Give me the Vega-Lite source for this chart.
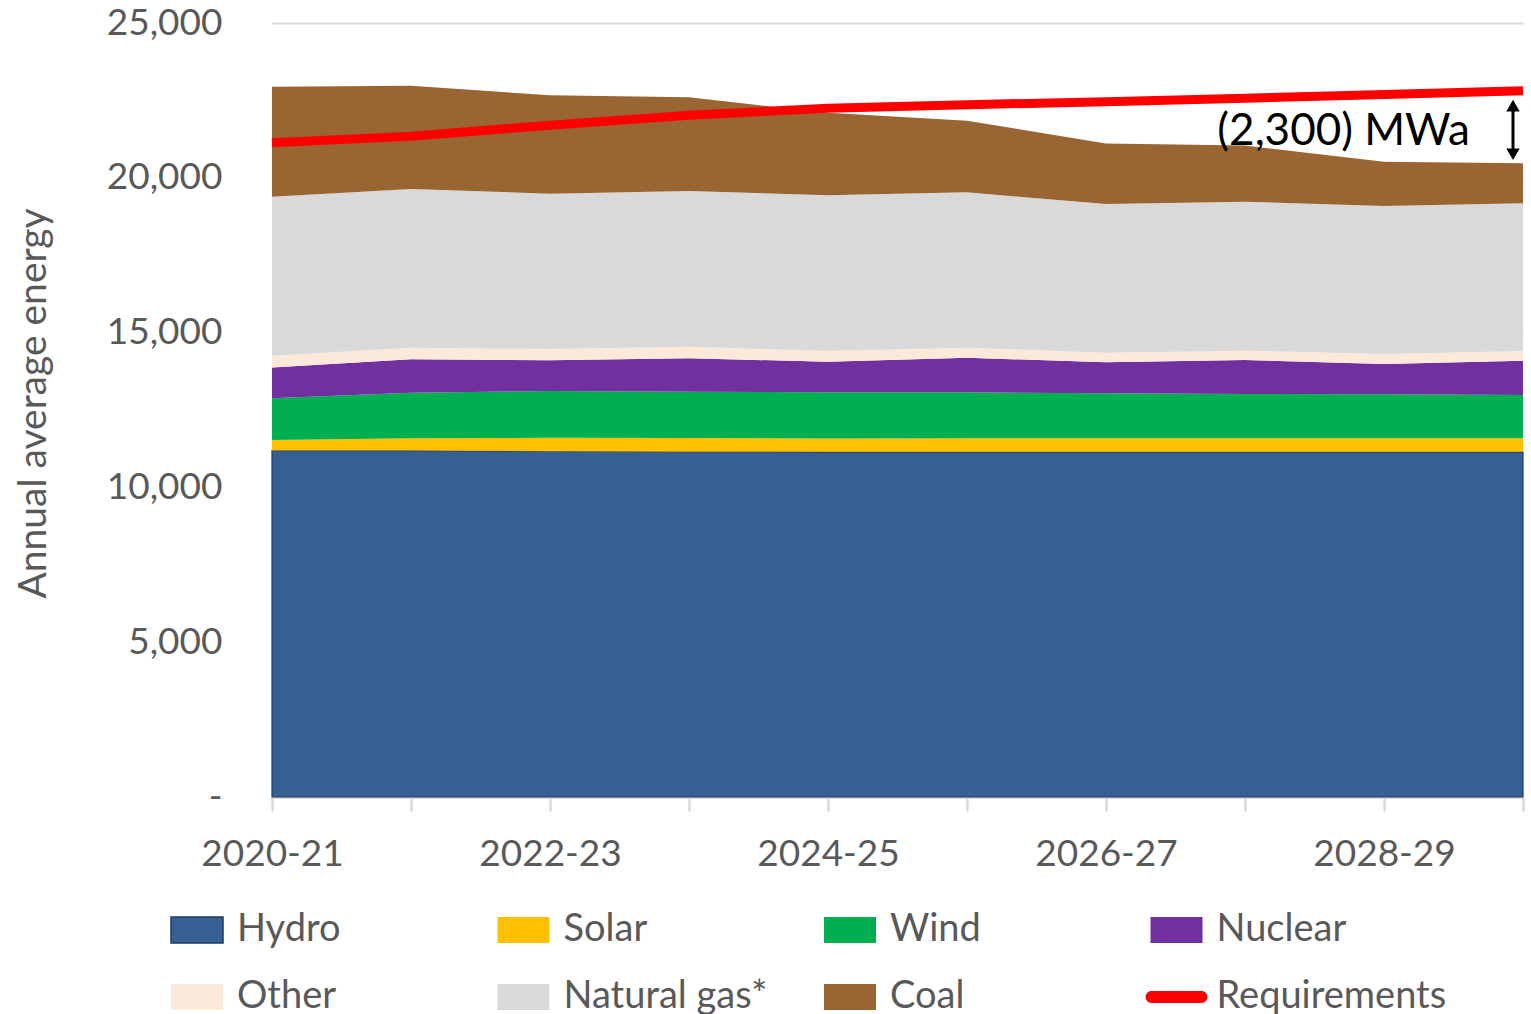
{
  "$schema": "https://vega.github.io/schema/vega-lite/v6.json",
  "width": 1251,
  "height": 774,
  "autosize": {"type": "none"},
  "padding": {"left": 272, "top": 23, "right": 8, "bottom": 217},
  "background": "white",
  "config": {"view": {"stroke": null}, "font": "Lato"},
  "datasets": {
    "energy": [
      {"year": "2020-21", "Hydro": 11190, "Solar": 340, "Wind": 1350, "Nuclear": 990, "Other": 385, "Natural gas*": 5135, "Coal": 3550, "Requirements": 21130},
      {"year": "2021-22", "Hydro": 11190, "Solar": 395, "Wind": 1475, "Nuclear": 1077, "Other": 376, "Natural gas*": 5125, "Coal": 3337, "Requirements": 21340},
      {"year": "2022-23", "Hydro": 11170, "Solar": 435, "Wind": 1509, "Nuclear": 991, "Other": 365, "Natural gas*": 5017, "Coal": 3178, "Requirements": 21700},
      {"year": "2023-24", "Hydro": 11155, "Solar": 440, "Wind": 1495, "Nuclear": 1080, "Other": 375, "Natural gas*": 5029, "Coal": 3026, "Requirements": 22020},
      {"year": "2024-25", "Hydro": 11150, "Solar": 430, "Wind": 1490, "Nuclear": 990, "Other": 346, "Natural gas*": 5029, "Coal": 2665, "Requirements": 22250},
      {"year": "2025-26", "Hydro": 11150, "Solar": 435, "Wind": 1485, "Nuclear": 1120, "Other": 323, "Natural gas*": 5017, "Coal": 2315, "Requirements": 22360},
      {"year": "2026-27", "Hydro": 11150, "Solar": 435, "Wind": 1455, "Nuclear": 1000, "Other": 310, "Natural gas*": 4800, "Coal": 1960, "Requirements": 22460},
      {"year": "2027-28", "Hydro": 11150, "Solar": 435, "Wind": 1430, "Nuclear": 1100, "Other": 300, "Natural gas*": 4815, "Coal": 1810, "Requirements": 22570},
      {"year": "2028-29", "Hydro": 11150, "Solar": 435, "Wind": 1420, "Nuclear": 980, "Other": 325, "Natural gas*": 4780, "Coal": 1430, "Requirements": 22690},
      {"year": "2029-30", "Hydro": 11150, "Solar": 435, "Wind": 1400, "Nuclear": 1105, "Other": 315, "Natural gas*": 4770, "Coal": 1295, "Requirements": 22810}
    ],
    "annot": [
      {"year": "2029-30", "top": 22330, "bottom": 20760, "label": "(2,300) MWa", "ty": 21470}
    ]
  },
  "layer": [
    {
      "data": {"name": "energy"},
      "transform": [
        {"fold": ["Hydro", "Solar", "Wind", "Nuclear", "Other", "Natural gas*", "Coal"], "as": ["source", "mwa"]},
        {"calculate": "indexof(['Hydro','Solar','Wind','Nuclear','Other','Natural gas*','Coal'], datum.source)", "as": "k"}
      ],
      "mark": {"type": "area", "interpolate": "linear", "strokeWidth": 1.2},
      "encoding": {
        "x": {
          "field": "year", "type": "ordinal", "sort": null,
          "scale": {"type": "point", "padding": 0},
          "axis": {
            "title": null,
            "labelExpr": "indexof(['2020-21','2022-23','2024-25','2026-27','2028-29'], datum.value) >= 0 ? datum.value : ''",
            "labelAngle": 0, "labelFontSize": 37, "labelColor": "#595959", "labelOverlap": false,
            "tickSize": 14, "tickColor": "#d9d9d9", "tickWidth": 2.5,
            "domainColor": "#d9d9d9", "domainWidth": 2.5, "labelPadding": 25, "grid": false
          }
        },
        "y": {
          "field": "mwa", "type": "quantitative", "stack": "zero",
          "scale": {"domain": [0, 25000], "nice": false},
          "axis": {
            "title": "Annual average energy", "titleFontSize": 39, "titleFontWeight": "normal", "titleColor": "#595959",
            "titleX": -239, "titleY": 380, "titleAngle": -90, "titleAlign": "center", "titleBaseline": "middle",
            "values": [0, 5000, 10000, 15000, 20000, 25000],
            "labelExpr": "datum.value === 0 ? '-' : format(datum.value, ',')",
            "labelFontSize": 37, "labelColor": "#595959", "labelPadding": 50,
            "domain": false, "ticks": false, "gridColor": "#d9d9d9", "gridWidth": 2
          }
        },
        "color": {
          "field": "source", "type": "nominal",
          "scale": {
            "domain": ["Hydro", "Solar", "Wind", "Nuclear", "Other", "Natural gas*", "Coal", "Requirements"],
            "range": ["#376092", "#FFC000", "#00B050", "#7030A0", "#FDE9D9", "#D9D9D9", "#996633", "#FF0000"]
          },
          "legend": {
            "orient": "none", "legendX": -102, "legendY": 880, "direction": "horizontal", "columns": 4,
            "title": null, "labelFontSize": 38, "labelColor": "#595959", "labelOffset": 13, "labelLimit": 400,
            "symbolSize": 2704, "symbolType": "M-1,-0.5H1V0.5H-1Z", "gridAlign": "all", "columnPadding": 22.5, "rowPadding": 21,
            "encoding": {
              "symbols": {
                "shape": {"value": {"expr": "datum.value === 'Requirements' ? 'M-0.96,-0.23H0.96A0.23,0.23 0 0 1 0.96,0.23H-0.96A0.23,0.23 0 0 1 -0.96,-0.23Z' : 'M-1,-0.5H1V0.5H-1Z'"}},
                "stroke": {"value": {"expr": "datum.value === 'Hydro' ? '#203864' : 'transparent'"}},
                "strokeWidth": {"value": 1.5},
                "opacity": {"value": 1},
                "fillOpacity": {"value": 1}
              }
            }
          }
        },
        "order": {"field": "k", "type": "quantitative"},
        "stroke": {"condition": {"test": "datum.source === 'Hydro'", "value": "#203864"}, "value": "transparent"}
      }
    },
    {
      "data": {"name": "energy"},
      "mark": {"type": "line", "color": "#FF0000", "strokeWidth": 9},
      "encoding": {
        "x": {"field": "year", "type": "ordinal", "sort": null},
        "y": {"field": "Requirements", "type": "quantitative", "title": "Annual average energy"}
      }
    },
    {
      "data": {"name": "annot"},
      "mark": {"type": "rule", "color": "black", "strokeWidth": 3, "xOffset": -10},
      "encoding": {
        "x": {"field": "year", "type": "ordinal", "sort": null},
        "y": {"field": "top", "type": "quantitative", "title": "Annual average energy"},
        "y2": {"field": "bottom"}
      }
    },
    {
      "data": {"name": "annot"},
      "mark": {"type": "point", "shape": "triangle-up", "filled": true, "color": "black", "size": 180, "xOffset": -10, "opacity": 1},
      "encoding": {
        "x": {"field": "year", "type": "ordinal", "sort": null},
        "y": {"field": "top", "type": "quantitative", "title": "Annual average energy"}
      }
    },
    {
      "data": {"name": "annot"},
      "mark": {"type": "point", "shape": "triangle-down", "filled": true, "color": "black", "size": 180, "xOffset": -10, "opacity": 1},
      "encoding": {
        "x": {"field": "year", "type": "ordinal", "sort": null},
        "y": {"field": "bottom", "type": "quantitative", "title": "Annual average energy"}
      }
    },
    {
      "data": {"name": "annot"},
      "mark": {"type": "text", "align": "right", "baseline": "middle", "dx": -53, "fontSize": 44, "color": "black", "font": "Lato"},
      "encoding": {
        "x": {"field": "year", "type": "ordinal", "sort": null},
        "y": {"field": "ty", "type": "quantitative", "title": "Annual average energy"},
        "text": {"field": "label"}
      }
    }
  ]
}
